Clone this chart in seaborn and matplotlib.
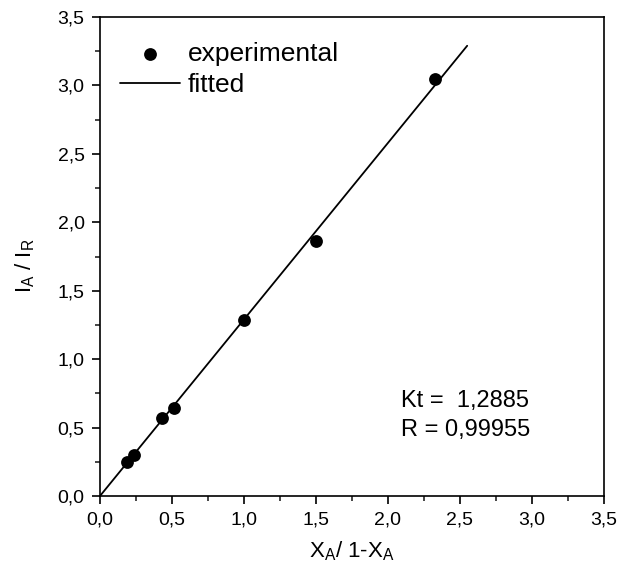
#!/usr/bin/env python3
import pandas as pd
import seaborn as sns
import matplotlib
matplotlib.use('Agg')
import matplotlib.pyplot as plt
from matplotlib.ticker import MultipleLocator, FuncFormatter


# experimental points
x_exp = [0.19, 0.235, 0.43, 0.515, 1.0, 1.5, 2.33]
y_exp = [0.245, 0.30, 0.57, 0.64, 1.285, 1.865, 3.045]

# fitted line end points
x_fit = [0.0, 2.55]
y_fit = [0.0, 3.29]

kt_text = 'Kt =  1,2885'
r_text = 'R = 0,99955'


def comma_fmt(v, pos):
    return f'{v:.1f}'.replace('.', ',')


def main():
    sns.set_theme()
    sns.set_style('ticks')
    plt.rcParams['font.family'] = ['Liberation Sans', 'DejaVu Sans']
    plt.rcParams['mathtext.fontset'] = 'custom'
    plt.rcParams['mathtext.rm'] = 'Liberation Sans'
    plt.rcParams['text.color'] = 'black'
    plt.rcParams['axes.labelcolor'] = 'black'

    exp_df = pd.DataFrame({'x': x_exp, 'y': y_exp})
    fit_df = pd.DataFrame({'x': x_fit, 'y': y_fit})

    fig = plt.figure(figsize=(6.18, 5.68), dpi=100)
    ax = fig.add_axes([0.1618, 0.1268, 0.8155, 0.8432])

    sns.lineplot(ax=ax, data=fit_df, x='x', y='y', color='black', linewidth=1.3,
                 label='fitted')
    sns.scatterplot(ax=ax, data=exp_df, x='x', y='y', color='black', s=85,
                    edgecolor='black', linewidth=0, label='experimental', zorder=3)

    ax.set_xlim(0, 3.5)
    ax.set_ylim(0, 3.5)
    ax.xaxis.set_major_locator(MultipleLocator(0.5))
    ax.xaxis.set_minor_locator(MultipleLocator(0.25))
    ax.yaxis.set_major_locator(MultipleLocator(0.5))
    ax.yaxis.set_minor_locator(MultipleLocator(0.25))
    ax.xaxis.set_major_formatter(FuncFormatter(comma_fmt))
    ax.yaxis.set_major_formatter(FuncFormatter(comma_fmt))
    ax.tick_params(which='major', direction='out', length=6, width=1.2,
                   labelsize=14, colors='black', pad=5)
    ax.tick_params(which='minor', direction='out', length=3.5, width=1.2)
    for sp in ax.spines.values():
        sp.set_visible(True)
        sp.set_linewidth(1.2)
        sp.set_color('black')

    ax.set_xlabel('X$_\\mathregular{A}$/ 1-X$_\\mathregular{A}$', fontsize=16, labelpad=8)
    ax.set_ylabel('I$_\\mathregular{A}$ / I$_\\mathregular{R}$', fontsize=16, labelpad=15, y=0.48)

    handles, labels = ax.get_legend_handles_labels()
    order = [labels.index('experimental'), labels.index('fitted')]
    ax.legend([handles[i] for i in order], [labels[i] for i in order],
              loc='upper left', bbox_to_anchor=(0.04, 0.947), frameon=False,
              fontsize=19, handlelength=2.25, handletextpad=0.3,
              labelspacing=0.25, borderaxespad=0, borderpad=0)

    ax.text(2.088, 0.652, kt_text, fontsize=17, ha='left', va='baseline')
    ax.text(2.088, 0.438, r_text, fontsize=17, ha='left', va='baseline')

    plt.savefig('out.png', dpi=100)
    plt.clf()


if __name__ == '__main__':
    main()
